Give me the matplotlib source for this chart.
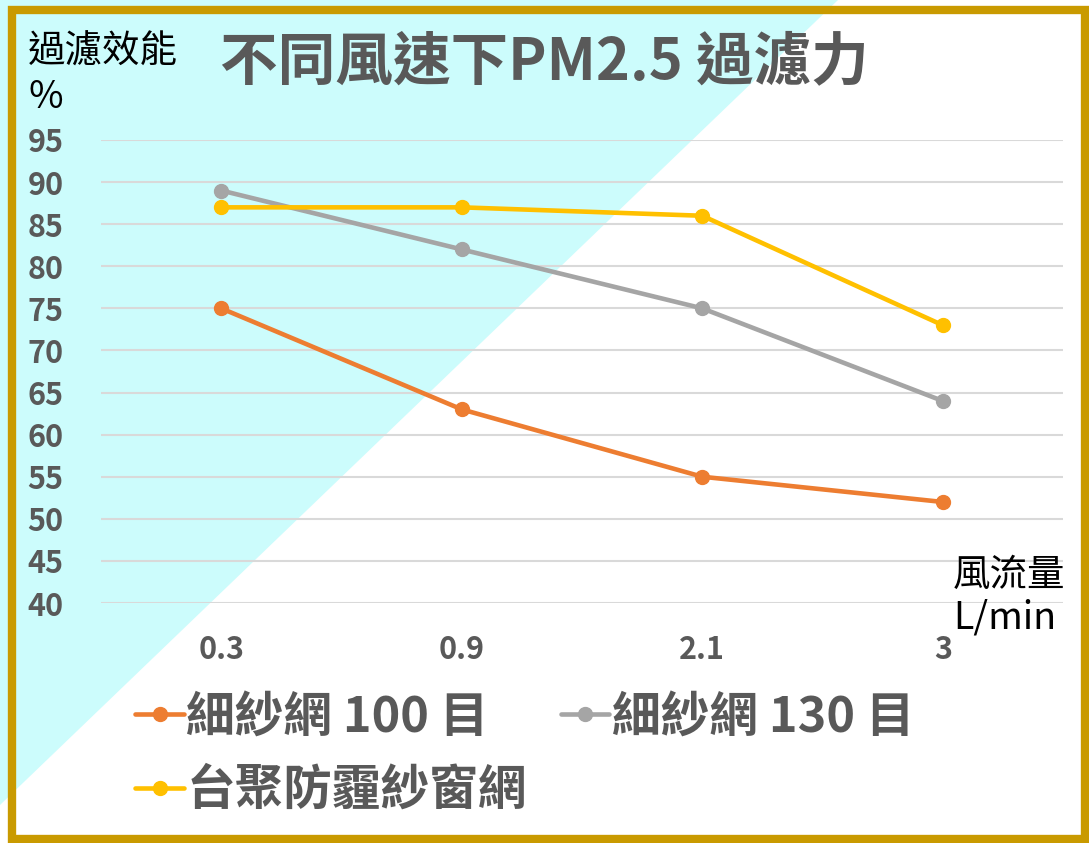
import matplotlib.pyplot as plt
from matplotlib.patches import Polygon, Rectangle

plt.rcParams['font.family'] = ['Noto Sans CJK TC', 'DejaVu Sans']

flow = ["0.3", "0.9", "2.1", "3"]
mesh100 = [75, 63, 55, 52]
mesh130 = [89, 82, 75, 64]
taipoly = [87, 87, 86, 73]
names = ["細紗網 100 目", "細紗網 130 目", "台聚防霾紗窗網"]
colors = ["#ED7D31", "#A5A5A5", "#FFC000"]
yticks = list(range(40, 100, 5))

W, H = 1089, 843
fig = plt.figure(figsize=(W / 100, H / 100), dpi=100)

# cyan triangle in the background
fig.patches.append(Polygon([(0, 1), (838 / W, 1), (0, 1 - 805 / H)], closed=True,
                           transform=fig.transFigure, facecolor="#CCFCFC",
                           edgecolor="none", zorder=0))
# gold frame
fig.patches.append(Rectangle((12 / W, 1 - 839 / H), (1085 - 12) / W, (839 - 10) / H,
                             transform=fig.transFigure, facecolor="none",
                             edgecolor="#C99A00", linewidth=6, zorder=1))

ax = fig.add_axes([101 / W, 1 - 603 / H, (1063 - 101) / W, (603 - 140) / H])
ax.set_facecolor("none")
ax.set_zorder(2)

x = list(range(len(flow)))
lines = []
for vals, c, n in zip([mesh100, mesh130, taipoly], colors, names):
    ln, = ax.plot(x, vals, color=c, lw=3.3, marker="o", markersize=10, label=n,
                  solid_capstyle="round")
    lines.append(ln)

ax.set_xlim(-0.5, 3.5)
ax.set_ylim(40, 95)
ax.set_yticks(yticks)
ax.set_xticks(x)
ax.set_xticklabels(flow)
ax.grid(axis="y", color="#D9D9D9", lw=1.5)
ax.set_axisbelow(True)
for s in ax.spines.values():
    s.set_visible(False)
ax.tick_params(length=0, labelsize=22, labelcolor="#595959")
for lab in ax.get_xticklabels() + ax.get_yticklabels():
    lab.set_fontweight("bold")
ax.tick_params(axis="y", pad=27)
ax.tick_params(axis="x", pad=22)

fig.text(220 / W, 1 - 62 / H, "不同風速下PM2.5 過濾力", fontsize=41.5, fontweight="bold",
         color="#595959", va="center", ha="left")
fig.text(28 / W, 1 - 52 / H, "過濾效能", fontsize=27, color="black", va="center")
fig.text(28 / W, 1 - 98 / H, "%", fontsize=27, color="black", va="center")
fig.text(953 / W, 1 - 575 / H, "風流量", fontsize=27, color="black", va="center")
fig.text(953 / W, 1 - 618 / H, "L/min", fontsize=27, color="black", va="center")

# legend fills by column, so order the handles to read row by row
fig.legend(handles=[lines[0], lines[2], lines[1]], loc="upper left",
           bbox_to_anchor=(111 / W, 1 - 668 / H),
           ncol=2, frameon=False, prop={"size": 35, "weight": "bold"},
           labelcolor="#595959", handlelength=1.0, handletextpad=0.05,
           columnspacing=0.7, labelspacing=0.5, borderpad=0)

fig.savefig("out.png", dpi=100)
